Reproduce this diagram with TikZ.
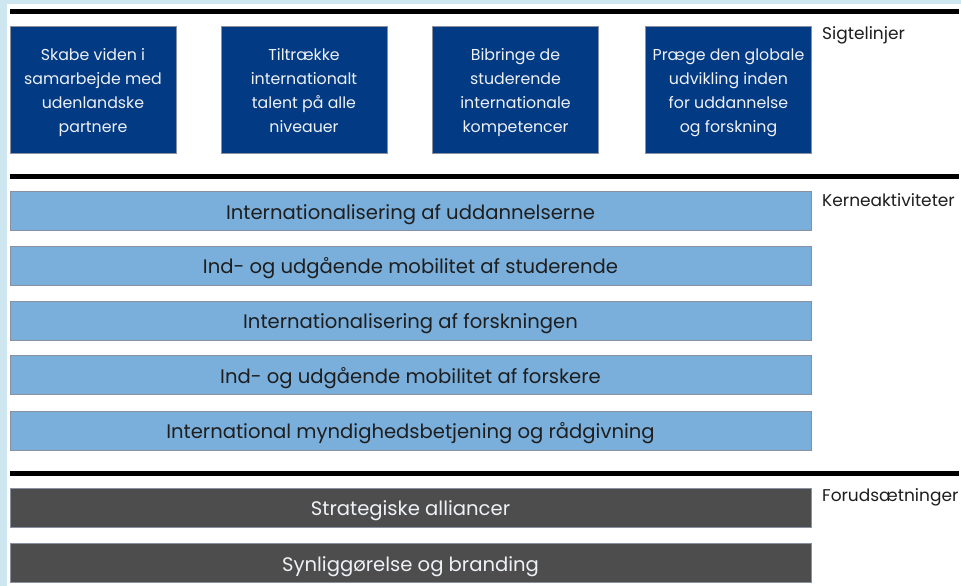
\documentclass[tikz,border=0pt]{standalone}
\usepackage{fontspec}
\setmainfont{Poppins}
\definecolor{bgblue}{HTML}{CDE6EF}
\definecolor{darkblue}{HTML}{023A84}
\definecolor{lightbar}{HTML}{7AAFDC}
\definecolor{greybar}{HTML}{4D4D4D}
\definecolor{edgegrey}{HTML}{8A90A0}
\definecolor{txtdark}{HTML}{1E1E1E}
\definecolor{txtlight}{HTML}{EEF1F5}
\newcommand{\topstrut}{\rule{0pt}{19pt}}
\newcommand{\botstrut}{\rule[-5pt]{0pt}{5pt}}
\begin{document}
\begin{tikzpicture}[x=1pt,y=-1pt,
  goal/.style={draw=edgegrey, line width=0.8pt, fill=darkblue, text=txtlight,
    minimum width=166pt, minimum height=127pt, align=center, inner sep=0pt,
    font=\fontsize{15.8}{24.3}\selectfont},
  corebar/.style={draw=edgegrey, line width=0.8pt, fill=lightbar, text=txtdark,
    minimum width=801pt, minimum height=39pt, inner sep=0pt,
    text height=16pt, text depth=0pt,
    font=\fontsize{19.6}{22}\selectfont},
  basebar/.style={corebar, fill=greybar, text=txtlight},
  sidelabel/.style={anchor=base west, inner sep=0pt, text=txtdark,
    font=\fontsize{17}{20}\selectfont},
  rule/.style={line width=5pt, black}
]
\useasboundingbox (0,0) rectangle (961,586);
\fill[bgblue] (0,0) rectangle (961,586);
\fill[white] (7,4) rectangle (961,586);

% separator rules
\coordinate (r1a) at (10,12);   \coordinate (r1b) at (959,12);
\coordinate (r2a) at (10,176);  \coordinate (r2b) at (959,176);
\coordinate (r3a) at (10,473.5);\coordinate (r3b) at (959,473.5);
\draw[rule] (r1a) -- (r1b);
\draw[rule] (r2a) -- (r2b);
\draw[rule] (r3a) -- (r3b);

% goals
\node[goal] (g1) at (93,89.5) {\topstrut Skabe viden i\\samarbejde med\\udenlandske\\partnere\botstrut};
\node[goal] (g2) at (304,89.5) {\topstrut Tiltrække\\internationalt\\talent på alle\\niveauer\botstrut};
\node[goal] (g3) at (515.5,89.5) {\topstrut Bibringe de\\studerende\\internationale\\kompetencer\botstrut};
\node[goal] (g4) at (728.5,89.5) {\topstrut Præge den globale\\udvikling inden\\for uddannelse\\og forskning\botstrut};

% core activities
\node[corebar] (c1) at (410.5,211) {Internationalisering af uddannelserne};
\node[corebar] (c2) at (410.5,265.5) {Ind- og udgående mobilitet af studerende};
\node[corebar] (c3) at (410.5,320.5) {Internationalisering af forskningen};
\node[corebar] (c4) at (410.5,375) {Ind- og udgående mobilitet af forskere};
\node[corebar] (c5) at (410.5,430.5) {International myndighedsbetjening og rådgivning};

% prerequisites
\node[basebar] (b1) at (410.5,507.5) {Strategiske alliancer};
\node[basebar] (b2) at (410.5,563) {Synliggørelse og branding};

% side labels
\node[sidelabel] (s1) at (822,40) {Sigtelinjer};
\node[sidelabel] (s2) at (822,206) {Kerneaktiviteter};
\node[sidelabel] (s3) at (822,501) {Forudsætninger};
\end{tikzpicture}
\end{document}
